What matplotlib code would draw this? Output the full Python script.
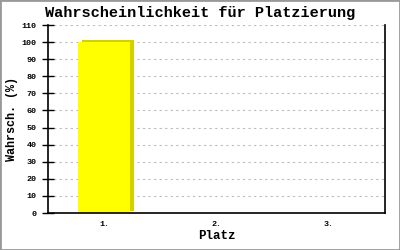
import matplotlib
matplotlib.use("Agg")
import matplotlib.pyplot as plt
import matplotlib.patheffects as pe
from matplotlib.patches import Rectangle

# data
categories = ["1.", "2.", "3."]
values = [100, 0, 0]
y_ticks = list(range(0, 111, 10))

mono = ["Liberation Mono", "DejaVu Sans Mono"]

fig = plt.figure(figsize=(4, 2.5), dpi=100)
ax = fig.add_axes([48 / 400, 37 / 250, 337 / 400, 188 / 250])

x = list(range(len(categories)))
bars = ax.bar(x, values, width=0.46, color="#ffff00", zorder=3)
for b in bars:
    b.set_path_effects([pe.SimplePatchShadow(offset=(3, 1.6), shadow_rgbFace="#d4d000", alpha=1.0),
                        pe.Normal()])

ax.set_xlim(-0.5, len(categories) - 0.5)
ax.set_ylim(0, 110)
ax.set_xticks(x)
ax.set_xticklabels(categories, family=mono, fontsize=6, fontweight="bold")
ax.set_yticks(y_ticks)
ax.set_yticklabels([str(v) for v in y_ticks], family=mono, fontsize=6, fontweight="bold")
ax.tick_params(axis="x", length=0, pad=6)
ax.tick_params(axis="y", direction="inout", length=8, width=1, pad=4)

ax.grid(axis="y", color="#bbbbbb", linestyle=(0, (2, 3)), linewidth=0.8, zorder=0)
ax.spines["top"].set_visible(False)
for s in ["left", "bottom", "right"]:
    ax.spines[s].set_linewidth(1.2)
    ax.spines[s].set_zorder(4)

fig.suptitle("Wahrscheinlichkeit für Platzierung", x=0.5, y=1 - 13 / 250, va="center",
             family=mono, fontsize=11, fontweight="bold")
ax.set_xlabel("Platz", family=mono, fontsize=9, fontweight="bold", labelpad=1)
ax.set_ylabel("Wahrsch. (%)", family=mono, fontsize=8.5, fontweight="bold", labelpad=3)

fig.patches.append(Rectangle((0, 0), 1, 1, transform=fig.transFigure, fill=False,
                             edgecolor="#999999", linewidth=2, zorder=10))

fig.savefig("out.png", dpi=100)
